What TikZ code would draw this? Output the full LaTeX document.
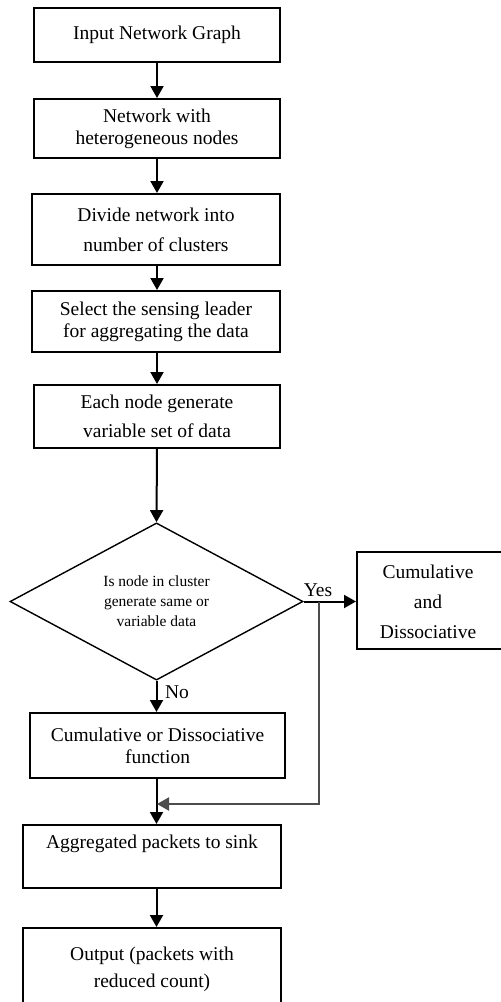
\documentclass[tikz,border=0pt]{standalone}
\usepackage{fontspec}
\setmainfont{Liberation Serif}
\usetikzlibrary{shapes.geometric,arrows.meta}
\begin{document}
\begin{tikzpicture}[x=1pt,y=-1pt,
  box/.style={draw,line width=2pt,inner sep=0pt,align=center,font=\fontsize{19.5}{22}\selectfont},
  dia/.style={draw,shape=diamond,line width=1.4pt,inner sep=0pt,align=center,font=\fontsize{15.5}{20}\selectfont},
  arr/.style={line width=2pt,-{Triangle[width=13pt,length=12pt]}},
  lbl/.style={font=\fontsize{19.5}{22}\selectfont,inner sep=0pt}]
\useasboundingbox (0,0) rectangle (501,1002);
\clip (0,0) rectangle (501,1002);
\fill[white] (0,0) rectangle (501,1002);
\node[box,minimum width=246pt,minimum height=54pt] (b1) at (157,35) {Input Network Graph};
\node[box,minimum width=246pt,minimum height=59pt] (b2) at (157,128.5) {Network with\\heterogeneous nodes};
\node[box,minimum width=248pt,minimum height=71pt,font=\fontsize{19.5}{30}\selectfont] (b3) at (156,229.5) {Divide network into\\number of clusters};
\node[box,minimum width=248pt,minimum height=61pt] (b4) at (156,321.5) {Select the sensing leader\\for aggregating the data};
\node[box,minimum width=246pt,minimum height=63pt,font=\fontsize{19.5}{29}\selectfont] (b5) at (157,416.5) {Each node generate\\variable set of data};
\node[dia,minimum width=293pt,minimum height=151pt] (d) at (156.5,601.5) {Is node in cluster\\generate same or\\variable data};
\node[box,minimum width=180pt,minimum height=97pt,anchor=west] (rb) at (356,600.5) {};
\node[font=\fontsize{19.5}{30}\selectfont,align=center,inner sep=0pt] (rbt) at (428,602) {Cumulative\\and\\Dissociative};
\node[box,minimum width=255pt,minimum height=65pt] (b6) at (157.5,745.5) {Cumulative or Dissociative\\function};
\node[box,minimum width=258pt,minimum height=63pt] (b7) at (152,856.5) {Aggregated packets to sink\\[0pt]\strut};
\node[box,minimum width=258pt,minimum height=82pt,font=\fontsize{19.5}{27}\selectfont] (b8) at (152,969) {Output (packets with\\reduced count)};
\node[lbl] (yes) at (318,590) {Yes};
\node[lbl] (no) at (177,692) {No};
\coordinate (j) at (319,601.5);
\coordinate (m) at (157,804);
\draw[arr] (b1.south) -- (b2.north);
\draw[arr] (b2.south) -- (b2.south |- b3.north);
\draw[arr] (b2.south |- b3.south) -- (b2.south |- b4.north);
\draw[arr] (b2.south |- b4.south) -- (b5.north);
\draw[arr] (b5.south) -- (d.north);
\draw[arr] (d.east) -- (rb.west |- d.east);
\draw[arr] (d.south) -- (d.south |- b6.north);
\draw[arr] (d.south |- b6.south) -- (d.south |- b7.north);
\draw[arr,gray!60!black] (j) |- (m);
\draw[arr] (d.south |- b7.south) -- (d.south |- b8.north);
\end{tikzpicture}
\end{document}
